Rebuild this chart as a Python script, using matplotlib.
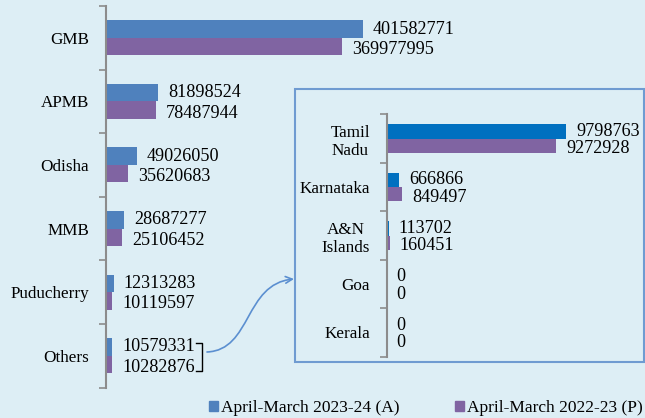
import matplotlib.pyplot as plt
from matplotlib.patches import Patch, Rectangle, FancyArrowPatch
from matplotlib.path import Path
from matplotlib.lines import Line2D

plt.rcParams['font.family'] = ['Liberation Serif', 'DejaVu Serif']

# main chart data
ports = ["GMB", "APMB", "Odisha", "MMB", "Puducherry", "Others"]
cur_main = [401582771, 81898524, 49026050, 28687277, 12313283, 10579331]
prev_main = [369977995, 78487944, 35620683, 25106452, 10119597, 10282876]

# inset data ("Others" breakdown)
states = ["Tamil\nNadu", "Karnataka", "A&N\nIslands", "Goa", "Kerala"]
cur_inset = [9798763, 666866, 113702, 0, 0]
prev_inset = [9272928, 849497, 160451, 0, 0]

labels = ["April-March 2023-24 (A)", "April-March 2022-23 (P)"]

bg = "#ddeef5"
blue = "#4f81bd"
blue2 = "#0070c0"
purple = "#8064a2"
W, H = 645, 418
fs_lab = 12.3   # category labels
fs_num = 13.1   # value labels


def px(x0, y0, x1, y1):
    # pixel box (top-left origin) -> figure fraction rect
    return [x0 / W, 1 - y1 / H, (x1 - x0) / W, (y1 - y0) / H]


def style_axis(ax, n):
    for s in ["top", "right", "bottom"]:
        ax.spines[s].set_visible(False)
    ax.spines["left"].set_color("#8c8c8c")
    ax.spines["left"].set_linewidth(1.5)
    ax.set_facecolor("none")
    ax.set_xticks([])
    ax.set_yticks(range(n))
    ax.set_yticks([i - 0.5 for i in range(n + 1)], minor=True)
    ax.tick_params(axis="y", which="major", length=0, pad=12, labelsize=fs_lab)
    ax.tick_params(axis="y", which="minor", length=5, width=1.2, color="#8c8c8c")
    ax.set_ylim(n - 0.5, -0.5)


def bars(ax, cur, prev, c1, h, xmax):
    y = list(range(len(cur)))
    ax.barh([v - h / 2 for v in y], cur, height=h, color=c1)
    ax.barh([v + h / 2 for v in y], prev, height=h, color=purple)
    for i in y:
        ax.annotate(str(cur[i]), (cur[i], i - h / 2), xytext=(10, 0),
                    textcoords="offset pixels", va="center", ha="left", fontsize=fs_num)
        ax.annotate(str(prev[i]), (prev[i], i + h / 2), xytext=(10, -3),
                    textcoords="offset pixels", va="center", ha="left", fontsize=fs_num)
    ax.set_xlim(0, xmax)


fig = plt.figure(figsize=(6.45, 4.18), dpi=100, facecolor=bg)

ax = fig.add_axes(px(105.7, 6, 640, 387.5))
style_axis(ax, len(ports))
bars(ax, cur_main, prev_main, blue, 0.275, 401582771 * (640 - 105.7) / 257)
ax.set_yticklabels(ports)

# inset box
fig.patches.append(Rectangle((294.7 / W, 1 - 361.7 / H), (644 - 294.7) / W, (361.7 - 89.3) / H,
                             transform=fig.transFigure, fill=False, edgecolor="#6f9bd1", lw=1.5))

ax2 = fig.add_axes(px(386.7, 114.3, 640, 356.7))
style_axis(ax2, len(states))
bars(ax2, cur_inset, prev_inset, blue2, 0.29, 9798763 * (640 - 386.7) / 179.3)
ax2.set_yticklabels(states, multialignment="center")

# bracket next to "Others"
bx = [196 / W, 201.5 / W, 201.5 / W, 196 / W]
by = [1 - 343.3 / H, 1 - 343.3 / H, 1 - 370.5 / H, 1 - 370.5 / H]
fig.lines.append(Line2D(bx, by, transform=fig.transFigure, color="black", lw=1))

# curved arrow to the inset
pts = [(207, 352), (252, 350), (244, 284), (294, 279)]
path = Path([(x / W, 1 - y / H) for x, y in pts],
            [Path.MOVETO, Path.CURVE4, Path.CURVE4, Path.CURVE4])
fig.patches.append(FancyArrowPatch(path=path, transform=fig.transFigure, arrowstyle="->",
                                   mutation_scale=12, color="#5b8fd0", lw=1.2))

handles = [Patch(color=blue), Patch(color=purple)]
fig.legend(handles, labels, loc="center", bbox_to_anchor=(426 / W, 1 - 408 / H), ncol=2,
           frameon=False, fontsize=12.5, handlelength=0.5, handleheight=0.5, handletextpad=0.2,
           columnspacing=3.2)

fig.savefig("out.png", dpi=100, facecolor=bg)
